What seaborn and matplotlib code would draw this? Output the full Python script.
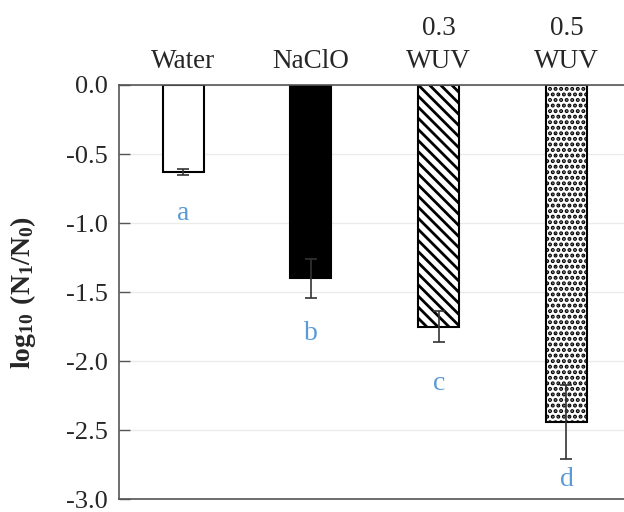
import matplotlib
matplotlib.use("Agg")
import matplotlib.pyplot as plt
import seaborn as sns
import pandas as pd

# Data
treatments = ["Water", "NaClO", "0.3\nWUV", "0.5\nWUV"]
log_reduction = [-0.63, -1.40, -1.75, -2.44]
std_err = [0.02, 0.14, 0.11, 0.27]
letters = ["a", "b", "c", "d"]
letter_y = [-0.93, -1.80, -2.16, -2.86]

sns.set_theme(style="white")
plt.rcParams['font.family'] = ['Liberation Serif', 'DejaVu Serif']
plt.rcParams['mathtext.fontset'] = 'custom'
plt.rcParams['mathtext.rm'] = 'Liberation Serif'
plt.rcParams['mathtext.bf'] = 'Liberation Serif:bold'
plt.rcParams['hatch.linewidth'] = 2.0

df = pd.DataFrame({"treatment": treatments, "value": log_reduction})

fig, ax = plt.subplots(figsize=(6.24, 5.12), dpi=100)
fig.subplots_adjust(left=0.191, right=1.0, top=0.834, bottom=0.025)

sns.barplot(data=df, x="treatment", y="value", ax=ax,
            palette=["white", "black", "white", "white"], hue="treatment",
            legend=False, edgecolor="black", linewidth=1.5, width=0.32)

hatches = ["", "", "\\\\\\", "..."]
for patch, h in zip(ax.patches, hatches):
    patch.set_hatch(h)

ax.errorbar(range(len(treatments)), log_reduction, yerr=std_err, fmt="none",
            ecolor="#333333", elinewidth=1.2, capsize=4.5, capthick=1.2)

for i, (lab, ly) in enumerate(zip(letters, letter_y)):
    ax.text(i, ly, lab, ha="center", va="center", fontsize=20, color="#5B9BD5")

ax.set_ylim(-3.0, 0.0)
ax.set_xlim(-0.5, 3.45)
ax.set_yticks([0.0, -0.5, -1.0, -1.5, -2.0, -2.5, -3.0])
ax.set_yticklabels([f"{v:.1f}" for v in [0.0, -0.5, -1.0, -1.5, -2.0, -2.5, -3.0]])
ax.yaxis.grid(True, color="#ebebeb", linewidth=1)
ax.set_axisbelow(True)

ax.xaxis.tick_top()
ax.tick_params(axis="x", length=0, labelsize=19.5, pad=8)
for t in ax.get_xticklabels():
    t.set_linespacing(1.4)
ax.tick_params(axis="y", direction="in", length=8, width=1, color="#555555",
               labelsize=19, pad=8, left=True)
ax.set_xlabel("")
ax.set_ylabel(r"$\mathbf{log_{10}\ (N_1/N_0)}$", fontsize=20, labelpad=20)

for side in ["left", "top", "bottom"]:
    ax.spines[side].set_visible(True)
    ax.spines[side].set_color("#555555")
    ax.spines[side].set_linewidth(1.2)
ax.spines["right"].set_visible(False)

plt.savefig("out.png", dpi=100)
